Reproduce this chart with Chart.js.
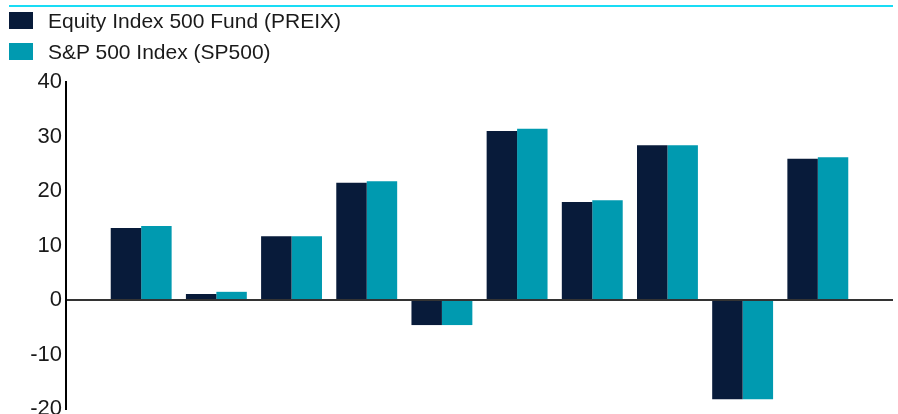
<!DOCTYPE html>
<html>
<head>
<meta charset="utf-8">
<script src="https://cdn.jsdelivr.net/npm/chart.js@4.4.0/dist/chart.umd.min.js"></script>
<style>
    html, body { margin: 0; padding: 0; background: #fff; }
    #wrap { position: relative; width: 898px; height: 414px; overflow: hidden; }
    #legend { position: absolute; left: 9px; top: 5px; font-family: "Liberation Sans", Arial, sans-serif; font-size: 21px; color: #1a1a1a; }
    .item { display: flex; align-items: center; height: 31px; }
    .box { width: 24px; height: 17px; margin-right: 15px; }
</style>
</head>
<body>
<div id="wrap">
    <canvas id="chart" width="898" height="414"></canvas>
    <div id="legend"></div>
</div>
<script>
(function(){
    "use strict";

    // calendar years (axis labels are not shown in the original)
    const years = ['2014', '2015', '2016', '2017', '2018', '2019', '2020', '2021', '2022', '2023'];
    const fundReturns = [13.2, 1.1, 11.7, 21.5, -4.6, 31.0, 18.0, 28.4, -18.2, 25.9];
    const indexReturns = [13.6, 1.5, 11.7, 21.8, -4.6, 31.4, 18.3, 28.4, -18.2, 26.2];
    const yTicks = [40, 30, 20, 10, 0, -10, -20];

    const seriesNames = ['Equity Index 500 Fund (PREIX)', 'S&P 500 Index (SP500)'];
    const seriesColors = ['#081b3a', '#009ab0'];

    // empty slot on each side so the bars sit one step away from the axes
    const labels = [''].concat(years, ['']);
    function pad(values) {
        return [null].concat(values, [null]);
    }

    // thin cyan rule across the top
    const topRule = {
        id: 'topRule',
        beforeDraw(chart) {
            const ctx = chart.ctx;
            ctx.save();
            ctx.strokeStyle = '#19dcf5';
            ctx.lineWidth = 2;
            ctx.beginPath();
            ctx.moveTo(9, 6);
            ctx.lineTo(893, 6);
            ctx.stroke();
            ctx.restore();
        }
    };

    function buildLegend(chart) {
        const html = chart.data.datasets.map(ds =>
            `<div class="item"><span class="box" style="background:${ds.backgroundColor}"></span>${ds.label}</div>`
        ).join('');
        document.getElementById('legend').innerHTML = html;
    }

    const chart = new Chart(document.getElementById('chart').getContext('2d'), {
        type: 'bar',
        data: {
            labels: labels,
            datasets: [{
                label: seriesNames[0],
                data: pad(fundReturns),
                backgroundColor: seriesColors[0]
            }, {
                label: seriesNames[1],
                data: pad(indexReturns),
                backgroundColor: seriesColors[1]
            }]
        },
        options: {
            responsive: false,
            animation: false,
            layout: { padding: { top: 82, bottom: 5, right: 5, left: 0 } },
            datasets: {
                bar: { categoryPercentage: 0.81, barPercentage: 1.0 }
            },
            scales: {
                x: {
                    display: false,
                    offset: false
                },
                y: {
                    min: -20,
                    max: 40,
                    afterBuildTicks: (axis) => { axis.ticks = yTicks.map(v => ({ value: v })); },
                    afterFit: (axis) => {
                        axis.width = 66;
                        axis.paddingTop = 0;
                        axis.paddingBottom = 0;
                    },
                    border: { display: true, color: '#000', width: 2 },
                    grid: {
                        drawTicks: false,
                        lineWidth: 2,
                        color: (c) => (c.tick && c.tick.value === 0) ? '#333' : 'rgba(0,0,0,0)'
                    },
                    ticks: {
                        padding: 4,
                        color: '#1a1a1a',
                        font: { family: 'Liberation Sans, Arial, sans-serif', size: 22 }
                    }
                }
            },
            plugins: {
                legend: { display: false },
                tooltip: { enabled: false }
            }
        },
        plugins: [topRule]
    });

    buildLegend(chart);
})();
</script>
</body>
</html>
